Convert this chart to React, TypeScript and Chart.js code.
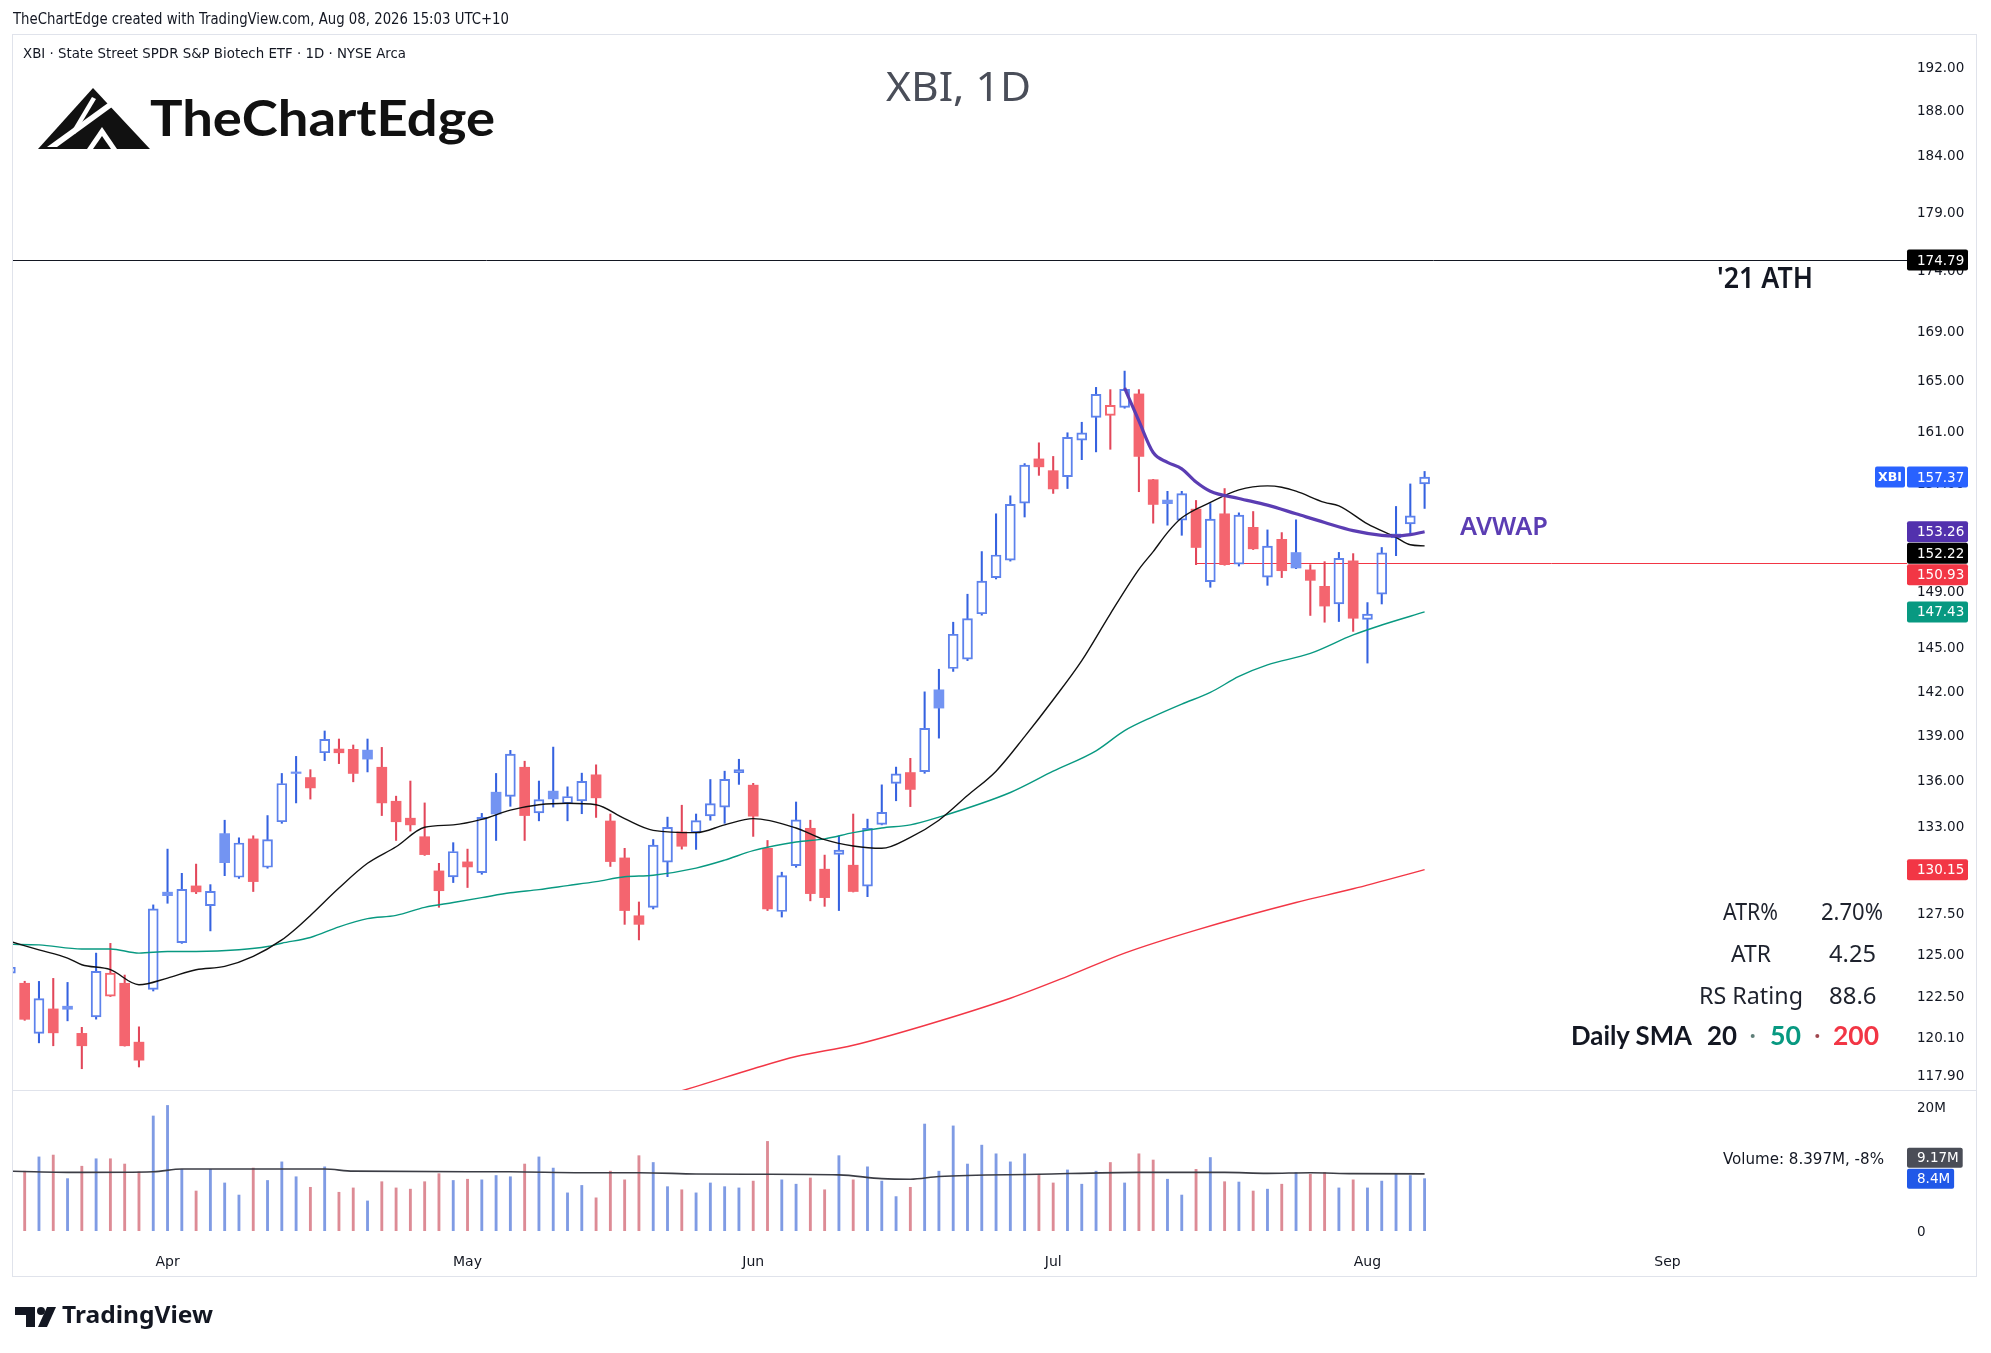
import React, { useEffect, useRef } from 'react';
import { Chart, registerables } from 'chart.js';

Chart.register(...registerables);

// ---------- DATA ----------
const SESSION_DAYS: [string, number[]][] = [
  ['Mar', [17, 18, 19, 20, 23, 24, 25, 26, 27, 30, 31]],
  ['Apr', [1, 2, 6, 7, 8, 9, 10, 13, 14, 15, 16, 17, 20, 21, 22, 23, 24, 27, 28, 29, 30]],
  ['May', [1, 4, 5, 6, 7, 8, 11, 12, 13, 14, 15, 18, 19, 20, 21, 22, 26, 27, 28, 29]],
  ['Jun', [1, 2, 3, 4, 5, 8, 9, 10, 11, 12, 15, 16, 17, 18, 22, 23, 24, 25, 26, 29, 30]],
  ['Jul', [1, 2, 6, 7, 8, 9, 10, 13, 14, 15, 16, 17, 20, 21, 22, 23, 24, 27, 28, 29, 30, 31]],
  ['Aug', [3, 4, 5, 6, 7, 10, 11, 12, 13, 14, 17, 18, 19, 20, 21, 24, 25, 26, 27, 28, 31]],
  ['Sep', [1, 2, 3, 4, 8, 9, 10, 11, 14, 15, 16, 17, 18, 21, 22, 23, 24, 25]],
];

const OPEN = [
  123.8, 123.19, 120.24, 121.67, 121.83, 120.24, 121.2, 122.43, 123.19, 119.73,
  122.82, 128.74, 125.63, 129.13, 127.9, 132.44, 129.67, 132.1, 130.3, 133.2,
  136.45, 136.08, 137.72, 137.97, 137.95, 137.9, 136.76, 134.53, 133.43, 132.24,
  130.07, 129.7, 130.64, 129.96, 135.12, 134.84, 136.76, 133.77, 135.19, 134.38,
  134.55, 136.26, 133.25, 130.89, 127.28, 127.8, 130.62, 132.55, 132.5, 133.58,
  134.15, 136.4, 135.58, 131.5, 127.54, 130.4, 132.78, 130.18, 131.12, 130.43,
  129.12, 133.03, 135.69, 136.41, 136.47, 141.98, 143.45, 144.1, 147.3, 149.9,
  151.17, 155.4, 158.76, 157.86, 157.41, 160.2, 161.98, 162.14, 162.77, 163.83,
  157.17, 155.63, 154.13, 154.95, 149.6, 154.6, 150.88, 153.59, 149.93, 152.7,
  151.73, 150.46, 149.27, 148.0, 151.12, 146.9, 148.7, 152.8, 153.85, 156.85,
];
const HIGH = [
  124.6, 123.31, 123.3, 123.48, 123.24, 120.59, 125.0, 125.59, 123.68, 120.62,
  127.95, 131.45, 129.92, 130.5, 129.21, 133.3, 132.17, 132.3, 133.6, 136.35,
  137.48, 136.6, 139.18, 138.64, 138.24, 138.64, 138.08, 134.86, 135.85, 134.42,
  130.55, 131.86, 131.45, 133.74, 136.35, 137.88, 137.16, 135.85, 138.1, 135.47,
  136.37, 136.92, 133.7, 131.5, 128.13, 132.06, 133.5, 134.27, 133.7, 135.95,
  136.5, 137.29, 135.7, 132.0, 129.99, 134.48, 133.3, 131.07, 132.3, 133.7,
  133.37, 135.6, 136.77, 137.35, 141.84, 143.4, 146.7, 148.7, 151.8, 154.6,
  155.95, 158.4, 160.0, 158.95, 160.78, 161.6, 164.35, 164.17, 165.65, 164.17,
  157.2, 156.29, 156.29, 155.6, 155.37, 156.5, 154.67, 154.77, 153.4, 153.2,
  154.15, 150.84, 151.06, 151.74, 151.65, 148.1, 152.1, 155.15, 156.85, 157.8,
];
const LOW = [
  123.5, 121.0, 119.69, 119.52, 120.97, 118.2, 121.07, 122.4, 119.5, 118.3,
  122.73, 128.05, 125.59, 128.65, 126.35, 129.77, 129.6, 128.78, 130.24, 133.1,
  134.42, 134.67, 137.2, 137.0, 135.8, 136.45, 133.6, 132.0, 132.6, 131.05,
  127.8, 129.34, 129.03, 129.86, 132.0, 134.2, 132.0, 133.26, 134.15, 133.26,
  133.72, 133.48, 130.35, 126.75, 125.8, 127.7, 129.71, 131.45, 131.43, 133.3,
  133.1, 135.63, 132.26, 127.6, 127.2, 130.3, 128.2, 127.86, 127.6, 128.75,
  128.46, 133.0, 134.56, 134.18, 136.36, 138.7, 143.25, 144.0, 147.2, 149.8,
  151.1, 154.36, 157.5, 156.13, 156.5, 158.7, 159.3, 159.5, 162.7, 156.26,
  153.9, 153.75, 153.0, 150.84, 149.2, 150.8, 150.74, 151.95, 149.34, 149.9,
  150.55, 147.18, 146.7, 146.75, 146.05, 143.83, 148.0, 151.5, 153.0, 155.0,
];
const CLOSE = [
  124.15, 121.06, 122.28, 120.27, 121.65, 119.52, 123.9, 123.8, 119.52, 118.69,
  127.7, 128.52, 128.92, 128.76, 128.79, 130.59, 131.84, 129.4, 132.05, 135.69,
  136.35, 135.4, 138.62, 137.72, 136.35, 137.3, 134.42, 133.2, 133.0, 131.1,
  128.83, 131.3, 130.32, 133.48, 133.7, 137.63, 133.6, 134.64, 134.68, 134.84,
  135.83, 134.75, 130.66, 127.6, 126.75, 131.7, 132.84, 131.63, 133.28, 134.37,
  135.96, 136.6, 133.56, 127.7, 129.77, 133.32, 128.65, 128.4, 131.38, 128.78,
  132.78, 133.81, 136.32, 135.3, 139.36, 140.73, 145.85, 146.95, 149.64, 151.55,
  155.3, 158.29, 158.15, 156.47, 160.43, 160.78, 163.8, 162.93, 164.2, 158.95,
  155.3, 155.36, 156.11, 152.1, 154.2, 150.84, 154.5, 152.0, 152.2, 150.4,
  150.6, 149.7, 147.85, 151.3, 146.98, 147.27, 151.7, 153.1, 154.45, 157.37,
];
// volume, millions of shares
const VOLUME = [
  9.0, 9.6, 11.9, 12.2, 8.4, 10.4, 11.6, 11.6, 10.75, 9.5,
  18.5, 20.2, 9.9, 6.4, 9.9, 7.7, 5.75, 10.1, 8.1, 11.1,
  8.7, 7.0, 10.3, 6.2, 6.9, 4.8, 7.9, 6.9, 6.7, 7.9,
  9.2, 8.1, 8.3, 8.2, 8.9, 8.7, 10.75, 11.9, 10.1, 6.1,
  7.3, 5.3, 9.6, 8.2, 12.1, 11.0, 7.1, 6.6, 6.1, 7.7,
  7.1, 6.9, 8.0, 14.4, 8.2, 7.5, 8.5, 6.6, 12.1, 8.2,
  10.3, 8.0, 5.5, 7.0, 17.2, 9.6, 16.9, 10.75, 13.8, 12.4,
  11.1, 12.4, 9.1, 7.7, 9.8, 7.5, 9.6, 11.0, 7.7, 12.4,
  11.4, 8.3, 5.75, 9.9, 11.8, 7.9, 7.85, 6.4, 6.7, 7.5,
  9.4, 9.1, 9.4, 6.9, 8.2, 6.9, 8.0, 9.2, 8.9, 8.397,
];
// [session index, value]
const SMA20: [number, number][] = [
  [0, 125.7], [2, 125.2], [4, 124.7], [5, 124.3], [7, 124.0], [9, 123.1], [11, 123.5], [13, 124.0],
  [15, 124.2], [17, 124.8], [19, 125.8], [20, 126.5], [21, 127.3], [23, 129.0], [25, 130.55], [27, 131.6],
  [29, 132.85], [31, 133.0], [33, 133.35], [35, 133.95], [37, 134.3], [39, 134.4], [41, 134.3], [43, 133.4],
  [45, 132.65], [48, 132.5], [50, 133.0], [52, 133.4], [55, 132.8], [57, 132.05], [59, 131.65], [61, 131.5],
  [63, 132.2], [65, 133.3], [67, 134.9], [69, 136.5], [71, 138.8], [73, 141.3], [75, 144.0], [77, 147.3],
  [79, 150.5], [80, 151.8], [81, 153.2], [82, 154.3], [84, 155.45], [86, 156.4], [88, 156.7], [89, 156.6],
  [90, 156.3], [92, 155.45], [93, 155.2], [95, 153.85], [97, 152.85], [98, 152.3], [99, 152.22],
];
const SMA50: [number, number][] = [
  [0, 125.53], [2, 125.5], [5, 125.25], [7, 125.25], [9, 125.0], [11, 125.1], [13, 125.1], [16, 125.2],
  [18, 125.4], [19, 125.6], [21, 125.95], [23, 126.6], [25, 127.1], [27, 127.3], [29, 127.8], [31, 128.1],
  [33, 128.4], [35, 128.7], [37, 128.9], [39, 129.15], [41, 129.4], [43, 129.7], [45, 129.8], [48, 130.25],
  [50, 130.75], [52, 131.35], [55, 131.9], [57, 132.1], [59, 132.5], [61, 132.8], [63, 133.0], [65, 133.5],
  [70, 135.1], [73, 136.5], [76, 137.85], [78, 139.2], [80, 140.15], [82, 141.0], [84, 141.8], [86, 142.9],
  [88, 143.7], [91, 144.5], [94, 145.8], [96, 146.5], [99, 147.43],
];
const SMA200: [number, number][] = [
  [45, 116.55], [47, 116.95], [52, 118.2], [55, 118.9], [59, 119.55], [64, 120.7], [70, 122.3],
  [74, 123.6], [78, 125.0], [83, 126.4], [90, 128.1], [94, 128.95], [99, 130.15],
];
const AVWAP: [number, number][] = [
  [78, 164.3], [79, 161.7], [80, 159.25], [81, 158.5], [82, 158.0], [83, 157.0], [84, 156.3], [86, 155.75],
  [88, 155.25], [90, 154.6], [92, 153.95], [94, 153.35], [96, 153.0], [97, 152.95], [98, 153.05], [99, 153.26],
];
const VOL_MA: [number, number][] = [
  [0, 9.6], [5, 9.4], [10, 9.5], [12, 9.95], [22, 9.95], [24, 9.6], [35, 9.5], [40, 9.35], [44, 9.35],
  [48, 9.15], [52, 9.1], [58, 9.0], [61, 8.4], [63, 8.3], [65, 8.75], [72, 9.1], [79, 9.4], [85, 9.4],
  [88, 9.25], [91, 9.35], [94, 9.2], [99, 9.17],
];
const PRICE_TICKS = [192, 188, 184, 179, 174, 169, 165, 161, 157, 153, 149, 145, 142, 139, 136, 133, 130, 127.5, 125, 122.5, 120.1, 117.9];
const VOLUME_TICKS = [0, 20];
const ATH_LEVEL = 174.79;
const SUPPORT_LEVEL = 150.93;
const SUPPORT_FROM = 83;

// ---------- derived ----------
const MONTH_START: { [k: number]: string } = {};
(() => {
  let n = 0;
  SESSION_DAYS.forEach(([m, days], mi) => {
    if (mi > 0) MONTH_START[n] = m;
    n += days.length;
  });
})();
const MONTH_TICK_IDX = Object.keys(MONTH_START).map(Number);

const N = CLOSE.length;
const isUp = (i: number) => CLOSE[i] >= OPEN[i];
const isRise = (i: number) => (i === 0 ? true : CLOSE[i] >= CLOSE[i - 1]);

const BLUE_FILL = '#7394f2';
const BLUE_LINE = '#5d82ec';
const BLUE_WICK = '#3562e0';
const RED_FILL = '#f4656f';
const RED_WICK = '#e2475a';
const VOL_BLUE = '#7f9be4';
const VOL_RED = '#dd8b95';

const X_MIN = 0.182;
const X_MAX = 132.35;
const P_MIN = 116.99;
const P_MAX = 194.99;
const V_MIN = -2.145;
const V_MAX = 22.69;
const AXIS_W = 75;

const TICK_FONT = { family: "'DejaVu Sans', sans-serif", size: 13.5 };
const BADGE_FONT = "13.5px 'DejaVu Sans', sans-serif";

function fmtM(v: number) {
  return String(parseFloat(v.toFixed(2))) + 'M';
}

function badge(ctx: any, x: number, yc: number, w: number, h: number, bg: string, text: string) {
  ctx.fillStyle = bg;
  ctx.beginPath();
  if (ctx.roundRect) ctx.roundRect(x, yc - h / 2, w, h, 2);
  else ctx.rect(x, yc - h / 2, w, h);
  ctx.fill();
  ctx.fillStyle = '#ffffff';
  ctx.font = BADGE_FONT;
  ctx.textAlign = 'left';
  ctx.textBaseline = 'middle';
  ctx.fillText(text, x + 10, yc + 1);
}

const priceDecor = {
  id: 'priceDecor',
  beforeDatasetsDraw(chart: any) {
    const { ctx, chartArea: a, scales } = chart;
    const x = scales.x;
    const y = scales.y;
    ctx.save();
    ctx.lineWidth = 1;
    const ya = Math.round(y.getPixelForValue(ATH_LEVEL)) + 0.5;
    ctx.strokeStyle = '#131722';
    ctx.beginPath();
    ctx.moveTo(a.left, ya);
    ctx.lineTo(a.right + 6, ya);
    ctx.stroke();
    const ys = Math.round(y.getPixelForValue(SUPPORT_LEVEL)) + 0.5;
    ctx.strokeStyle = '#f23645';
    ctx.beginPath();
    ctx.moveTo(x.getPixelForValue(SUPPORT_FROM), ys);
    ctx.lineTo(a.right + 6, ys);
    ctx.stroke();
    ctx.restore();
  },
  afterDraw(chart: any) {
    const { ctx, chartArea: a, scales } = chart;
    const y = scales.y;
    const H = 21.5;
    const items = [
      { v: ATH_LEVEL, bg: '#000000', tag: false },
      { v: CLOSE[N - 1], bg: '#2962ff', tag: true },
      { v: AVWAP[AVWAP.length - 1][1], bg: '#5231ad', tag: false },
      { v: SMA20[SMA20.length - 1][1], bg: '#000000', tag: false },
      { v: SUPPORT_LEVEL, bg: '#f23645', tag: false },
      { v: SMA50[SMA50.length - 1][1], bg: '#089981', tag: false },
      { v: SMA200[SMA200.length - 1][1], bg: '#f23645', tag: false },
    ]
      .map((it) => ({ ...it, py: y.getPixelForValue(it.v) }))
      .sort((p, q) => p.py - q.py);
    let prev = -Infinity;
    ctx.save();
    for (const it of items) {
      it.py = Math.max(it.py, prev + H);
      prev = it.py;
      badge(ctx, a.right + 6, it.py, 61, 21, it.bg, it.v.toFixed(2));
      if (it.tag) {
        ctx.fillStyle = '#2962ff';
        ctx.beginPath();
        if (ctx.roundRect) ctx.roundRect(a.right - 26, it.py - 10.5, 30, 21, 2);
        else ctx.rect(a.right - 26, it.py - 10.5, 30, 21);
        ctx.fill();
        ctx.fillStyle = '#ffffff';
        ctx.font = "bold 12.5px 'DejaVu Sans', sans-serif";
        ctx.textAlign = 'center';
        ctx.textBaseline = 'middle';
        ctx.fillText('XBI', a.right - 11, it.py + 1);
      }
    }
    ctx.restore();
  },
};

const volDecor = {
  id: 'volDecor',
  afterDraw(chart: any) {
    const { ctx, chartArea: a, scales } = chart;
    const y = scales.y;
    const lastVol = VOLUME[N - 1];
    const lastMa = VOL_MA[VOL_MA.length - 1][1];
    const yv = y.getPixelForValue(lastVol);
    const ym = Math.min(y.getPixelForValue(lastMa), yv - 21);
    ctx.save();
    ctx.font = BADGE_FONT;
    const t1 = fmtM(lastMa);
    const t2 = fmtM(lastVol);
    badge(ctx, a.right + 6, ym, ctx.measureText(t1).width + 14, 20, '#4a4d57', t1);
    ctx.font = BADGE_FONT;
    badge(ctx, a.right + 6, yv, ctx.measureText(t2).width + 14, 20, '#2058e8', t2);
    ctx.restore();
  },
};

const pts = (arr: [number, number][]) => arr.map(([i, v]) => ({ x: i, y: v }));

export default function App() {
  const priceRef = useRef<HTMLCanvasElement>(null);
  const volRef = useRef<HTMLCanvasElement>(null);

  useEffect(() => {
    const idx = Array.from({ length: N }, (_, i) => i);
    const lineBase = {
      type: 'line' as const,
      pointRadius: 0,
      borderWidth: 1.4,
      cubicInterpolationMode: 'monotone' as const,
      fill: false,
    };
    const barBase = {
      type: 'bar' as const,
      grouped: false,
      barPercentage: 1,
      categoryPercentage: 1,
      borderSkipped: false,
    };
    const priceChart = new Chart(priceRef.current as HTMLCanvasElement, {
      type: 'bar',
      data: {
        datasets: [
          { ...lineBase, label: 'AVWAP', data: pts(AVWAP), borderColor: '#5b3db3', borderWidth: 3.2, order: 0 },
          { ...lineBase, label: 'SMA20', data: pts(SMA20), borderColor: '#111111', order: 1 },
          { ...lineBase, label: 'SMA50', data: pts(SMA50), borderColor: '#089981', order: 1 },
          { ...lineBase, label: 'SMA200', data: pts(SMA200), borderColor: '#f23645', order: 1 },
          {
            ...barBase,
            label: 'body',
            data: idx.map((i) => ({ x: i, y: [Math.min(OPEN[i], CLOSE[i]), Math.max(OPEN[i], CLOSE[i])] })),
            backgroundColor: idx.map((i) => (isUp(i) ? 'rgba(255,255,255,0)' : isRise(i) ? BLUE_FILL : RED_FILL)),
            borderColor: idx.map((i) => (isRise(i) ? BLUE_LINE : RED_FILL)),
            borderWidth: idx.map((i) => (isUp(i) ? 1.3 : 0)),
            maxBarThickness: 10,
            order: 5,
          } as any,
          {
            ...barBase,
            label: 'upperWick',
            data: idx.map((i) => ({ x: i, y: [Math.max(OPEN[i], CLOSE[i]), HIGH[i]] })),
            backgroundColor: idx.map((i) => (isRise(i) ? BLUE_WICK : RED_WICK)),
            maxBarThickness: 1.4,
            order: 6,
          } as any,
          {
            ...barBase,
            label: 'lowerWick',
            data: idx.map((i) => ({ x: i, y: [LOW[i], Math.min(OPEN[i], CLOSE[i])] })),
            backgroundColor: idx.map((i) => (isRise(i) ? BLUE_WICK : RED_WICK)),
            maxBarThickness: 1.4,
            order: 6,
          } as any,
        ] as any,
      },
      options: {
        animation: false,
        responsive: false,
        events: [],
        layout: { padding: 0 },
        plugins: { legend: { display: false }, tooltip: { enabled: false } },
        scales: {
          x: { type: 'linear', min: X_MIN, max: X_MAX, display: false, offset: false, grid: { offset: false } },
          y: {
            type: 'logarithmic',
            position: 'right',
            min: P_MIN,
            max: P_MAX,
            grid: { display: false, drawTicks: false },
            border: { display: false },
            ticks: {
              font: TICK_FONT,
              color: '#131722',
              padding: 16,
              labelOffset: 2.5,
              autoSkip: false,
              callback: (v: any) => Number(v).toFixed(2),
            },
            afterBuildTicks: (s: any) => {
              s.ticks = PRICE_TICKS.map((v) => ({ value: v }));
            },
            afterFit: (s: any) => {
              s.width = AXIS_W;
              s.paddingTop = 0;
              s.paddingBottom = 0;
            },
          },
        },
      } as any,
      plugins: [priceDecor],
    });

    const volChart = new Chart(volRef.current as HTMLCanvasElement, {
      type: 'bar',
      data: {
        datasets: [
          { ...lineBase, label: 'VolMA', data: pts(VOL_MA), borderColor: '#3b3d45', borderWidth: 1.6, order: 0 },
          {
            ...barBase,
            label: 'Volume',
            data: idx.map((i) => ({ x: i, y: VOLUME[i] })),
            backgroundColor: idx.map((i) => (isRise(i) ? VOL_BLUE : VOL_RED)),
            maxBarThickness: 2.2,
            order: 2,
          } as any,
        ] as any,
      },
      options: {
        animation: false,
        responsive: false,
        events: [],
        layout: { padding: 0 },
        plugins: { legend: { display: false }, tooltip: { enabled: false } },
        scales: {
          x: {
            type: 'linear',
            position: 'bottom',
            min: X_MIN,
            max: X_MAX,
            offset: false,
            grid: { display: false, drawTicks: false, offset: false },
            border: { display: false },
            ticks: {
              font: { family: "'DejaVu Sans', sans-serif", size: 14 },
              color: '#131722',
              padding: 10,
              autoSkip: false,
              maxRotation: 0,
              callback: (v: any) => MONTH_START[Number(v)] || '',
            },
            afterBuildTicks: (s: any) => {
              s.ticks = MONTH_TICK_IDX.map((v) => ({ value: v }));
            },
            afterFit: (s: any) => {
              s.height = 32;
              s.paddingLeft = 0;
              s.paddingRight = 0;
            },
          },
          y: {
            type: 'linear',
            position: 'right',
            min: V_MIN,
            max: V_MAX,
            grid: { display: false, drawTicks: false },
            border: { display: false },
            ticks: {
              font: TICK_FONT,
              color: '#131722',
              padding: 16,
              labelOffset: 2,
              autoSkip: false,
              callback: (v: any) => (Number(v) === 0 ? '0' : v + 'M'),
            },
            afterBuildTicks: (s: any) => {
              s.ticks = VOLUME_TICKS.map((v) => ({ value: v }));
            },
            afterFit: (s: any) => {
              s.width = AXIS_W;
              s.paddingTop = 0;
              s.paddingBottom = 0;
            },
          },
        },
      } as any,
      plugins: [volDecor],
    });

    return () => {
      priceChart.destroy();
      volChart.destroy();
    };
  }, []);

  const cond = "'DejaVu Sans Condensed', 'Liberation Sans Narrow', 'Roboto Condensed', 'DejaVu Sans', sans-serif";
  const sans = "'Noto Sans', 'Open Sans', sans-serif";
  const geo = "Lato, 'Noto Sans', sans-serif";
  const T = (props: any) => <text lengthAdjust="spacingAndGlyphs" {...props} />;

  return (
    <div style={{ position: 'fixed', left: 0, top: 0, width: 1991, height: 1353, background: '#ffffff', overflow: 'hidden' }}>
      <div style={{ position: 'absolute', left: 13, top: 34, width: 1963, height: 1056 }}>
        <canvas ref={priceRef} width={1963} height={1056} style={{ width: 1963, height: 1056, display: 'block' }} />
      </div>
      <div style={{ position: 'absolute', left: 13, top: 1090, width: 1963, height: 186 }}>
        <canvas ref={volRef} width={1963} height={186} style={{ width: 1963, height: 186, display: 'block' }} />
      </div>
      <svg width={1991} height={1353} style={{ position: 'absolute', left: 0, top: 0, pointerEvents: 'none' }}>
        {/* frame */}
        <rect x={12.5} y={34.5} width={1964} height={1242} fill="none" stroke="#e0e3eb" strokeWidth={1} />
        <line x1={12.5} y1={1090.5} x2={1976.5} y2={1090.5} stroke="#e0e3eb" strokeWidth={1} />

        {/* header */}
        <T x={13} y={24} fontFamily={cond} fontSize={15} fill="#131722" textLength={496}>
          TheChartEdge created with TradingView.com, Aug 08, 2026 15:03 UTC+10
        </T>
        <T x={23} y={58} fontFamily={cond} fontSize={14.5} fill="#131722" textLength={383}>
          XBI · State Street SPDR S&amp;P Biotech ETF · 1D · NYSE Arca
        </T>

        {/* TheChartEdge logo */}
        <g>
          <polygon points="38,149 93,88 150,149" fill="#111111" />
          <polygon points="47,147 108,103 112,107 57,147" fill="#ffffff" />
          <polygon points="92,97 96,99 75,134 70,134" fill="#ffffff" />
          <polygon points="87,149 102,127 117,149" fill="#ffffff" />
          <polygon points="93,149 102,136 111,149" fill="#111111" />
        </g>
        <T x={150} y={136} fontFamily={geo} fontWeight={700} fontSize={49} fill="#111111" textLength={345}>
          TheChartEdge
        </T>

        {/* title */}
        <T x={886} y={101} fontFamily={sans} fontSize={40} fill="#4a4e59" textLength={145}>
          XBI, 1D
        </T>

        {/* annotations */}
        <T x={1717} y={288} fontFamily={sans} fontWeight={600} fontSize={28} fill="#131722" textLength={96}>
          '21 ATH
        </T>
        <T x={1460} y={535} fontFamily={sans} fontWeight={600} fontSize={25} fill="#5b3db3" textLength={88}>
          AVWAP
        </T>

        {/* stats */}
        <T x={1723} y={920} fontFamily={sans} fontSize={23} fill="#1e222d" textLength={55}>ATR%</T>
        <T x={1821} y={920} fontFamily={sans} fontSize={23} fill="#1e222d" textLength={62}>2.70%</T>
        <T x={1731} y={961.5} fontFamily={sans} fontSize={23} fill="#1e222d" textLength={40}>ATR</T>
        <T x={1829} y={961.5} fontFamily={sans} fontSize={23} fill="#1e222d" textLength={47}>4.25</T>
        <T x={1699} y={1004} fontFamily={sans} fontSize={23} fill="#1e222d" textLength={104}>RS Rating</T>
        <T x={1829} y={1004} fontFamily={sans} fontSize={23} fill="#1e222d" textLength={47.5}>88.6</T>
        <T x={1571} y={1045} fontFamily={geo} fontWeight={700} fontSize={26} fill="#131722" textLength={121}>Daily SMA</T>
        <T x={1707} y={1045} fontFamily={geo} fontWeight={700} fontSize={26} fill="#131722" textLength={30}>20</T>
        <circle cx={1752.7} cy={1036} r={2} fill="#5f7f78" />
        <T x={1770} y={1045} fontFamily={geo} fontWeight={700} fontSize={26} fill="#089981" textLength={31}>50</T>
        <circle cx={1817.3} cy={1036} r={2} fill="#a0474f" />
        <T x={1833} y={1045} fontFamily={geo} fontWeight={700} fontSize={26} fill="#f23645" textLength={46}>200</T>

        <T x={1723} y={1164} fontFamily={cond} fontSize={16.5} fill="#131722" textLength={161}>
          Volume: 8.397M, -8%
        </T>

        {/* TradingView logo */}
        <g fill="#131722">
          <path d="M15 1307 H35 V1327 H26 V1315 H15 Z" />
          <circle cx={41} cy={1311} r={4} />
          <path d="M47 1307 H56 L47 1327 H38 Z" />
        </g>
        <T x={62} y={1323} fontFamily={sans} fontWeight={700} fontSize={23} fill="#131722" textLength={151}>
          TradingView
        </T>
      </svg>
    </div>
  );
}
